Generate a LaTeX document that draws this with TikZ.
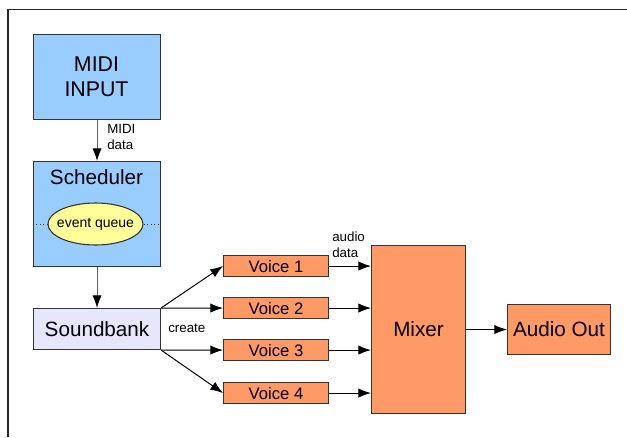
\documentclass[tikz,border=0pt]{standalone}
\usepackage{fontspec}
\setmainfont{Liberation Sans}
\usetikzlibrary{arrows.meta,shapes.geometric}
\definecolor{boxblue}{HTML}{99CCFF}
\definecolor{qyellow}{HTML}{FFFF99}
\definecolor{sblav}{HTML}{E6E6FF}
\definecolor{orng}{HTML}{FF9966}
\definecolor{edge}{HTML}{333333}
\tikzset{
  px/.style={x=0.75pt,y=-0.75pt},
  blk/.style={draw=edge,line width=0.8pt,rectangle,inner sep=0pt,anchor=north west},
  conn/.style={draw=black,line width=0.75pt,-{Latex[length=9.5pt,width=7pt,black]}},
  gconn/.style={draw=gray!75!black,line width=0.75pt,-{Latex[length=9.5pt,width=7pt,black]}},
  small/.style={font=\fontsize{10pt}{12pt}\selectfont,align=left,inner sep=0pt},
}
\begin{document}
\begin{tikzpicture}[px]
\useasboundingbox (0,0) rectangle (627,437);
% frame (cut off at right and bottom)
\draw[line width=1.2pt,draw=black!85] (8,437) -- (8,9.5) -- (627,9.5);

% MIDI input
\node[blk,fill=boxblue,minimum width=95.25pt,minimum height=63.75pt] (midi) at (33,34) {};
\node[font=\fontsize{16pt}{18.5pt}\selectfont,align=center] (miditxt) at (96.5,76.5) {MIDI\\INPUT};

% Scheduler
\node[blk,fill=boxblue,minimum width=95.25pt,minimum height=78.75pt] (sched) at (33,161) {};
\node[font=\fontsize{15.5pt}{18pt}\selectfont] (schedtxt) at (96.5,177) {Scheduler};
\draw[dotted,draw=edge,line width=0.6pt] (sched.west |- 0,224) -- (sched.east |- 0,224);
\node[ellipse,draw=edge,line width=0.8pt,fill=qyellow,minimum width=71.25pt,minimum height=31.5pt,inner sep=0pt] (queue) at (95.5,224) {};
\node[font=\fontsize{10.5pt}{12pt}\selectfont,inner sep=0pt] (queuetxt) at (queue.center) {event queue};

% Soundbank
\node[blk,fill=sblav,minimum width=95.25pt,minimum height=30.75pt] (sb) at (33,308) {};
\node[font=\fontsize{15.5pt}{18pt}\selectfont] (sbtxt) at (sb.center) {Soundbank};

% Voices
\foreach \i/\y in {1/255,2/297,3/339,4/382}{
  \node[blk,fill=orng,minimum width=78.75pt,minimum height=15.75pt] (v\i) at (223,\y) {};
  \node[font=\fontsize{12.5pt}{15pt}\selectfont] (v\i txt) at (v\i.center) {Voice \i};
}

% Mixer
\node[blk,fill=orng,minimum width=70.5pt,minimum height=126pt] (mixer) at (371,245) {};
\node[font=\fontsize{15.5pt}{18pt}\selectfont] (mixtxt) at (mixer.center) {Mixer};

% Audio Out
\node[blk,fill=orng,minimum width=77.25pt,minimum height=37.5pt] (ao) at (507,304) {};
\node[font=\fontsize{15.5pt}{18pt}\selectfont] (aotxt) at (ao.center) {Audio Out};

% connectors
\draw[gconn] (midi.south) -- (sched.north);
\draw[gconn] (sched.south) -- (sb.north);
\draw[conn] (sb.north east) -- (v1.west);
\draw[conn] (sb.north east) -- (v2.west);
\draw[conn] (sb.south east) -- (v3.west);
\draw[conn] (sb.south east) -- (v4.west);
\foreach \i in {1,2,3,4}{
  \draw[conn] (v\i.east) -- (v\i.east -| mixer.west);
}
\draw[conn] (mixer.east |- ao.west) -- (ao.west);

% labels
\node[small,anchor=west] (lmidi) at (107,137) {MIDI\\data};
\node[small,anchor=west] (laudio) at (332,244.5) {audio\\data};
\node[small,anchor=west] (lcreate) at (168,328) {create};
\end{tikzpicture}
\end{document}
